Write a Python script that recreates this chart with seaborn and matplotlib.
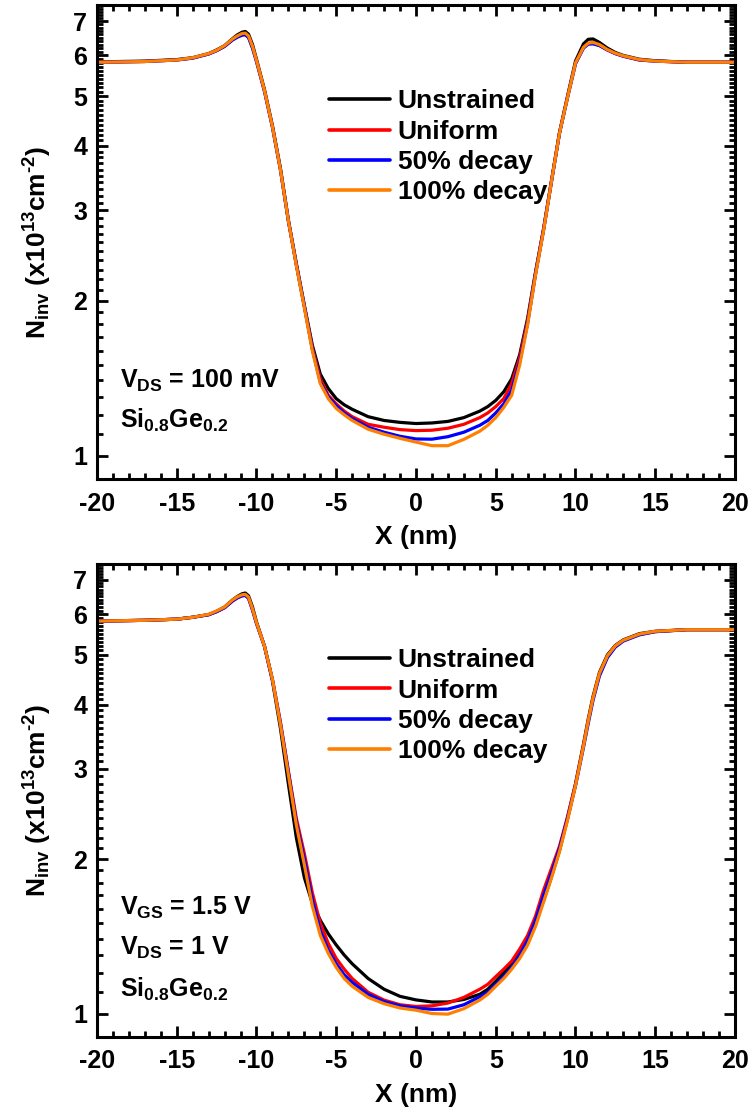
import numpy as np
import pandas as pd
import matplotlib
matplotlib.use("Agg")
import matplotlib.pyplot as plt
import seaborn as sns
from matplotlib.ticker import FixedLocator, MultipleLocator, NullFormatter, FixedFormatter

# ---------------- data ----------------
X_NM = [-20, -17, -15, -14, -13, -12.5, -12, -11.5, -11.2, -10.9, -10.7, -10.5, -10.25, -10, -9.5,
        -9, -8.5, -8, -7.5, -7, -6.5, -6, -5.5, -5, -4.5, -4, -3, -2, -1, 0, 1, 2, 3, 4, 4.5,
        5, 5.5, 6, 6.5, 7, 7.5, 8, 8.5, 9, 9.5, 10, 10.5, 10.8, 11.1, 11.5, 12, 12.5, 13, 14, 15,
        17, 20]

SERIES = ["Unstrained", "Uniform", "50% decay", "100% decay"]
COLORS = ["#000000", "#FF0000", "#0000FF", "#FF8000"]

# Panel 1: V_DS = 100 mV
TOP_UNSTRAINED = [5.83, 5.85, 5.89, 5.94, 6.05, 6.15, 6.27, 6.47, 6.58, 6.66, 6.68, 6.6, 6.3, 5.9, 5.15,
                  4.38, 3.62, 2.87, 2.36, 1.96, 1.64, 1.44, 1.35, 1.29, 1.255, 1.23, 1.19, 1.17, 1.16, 1.154,
                  1.157, 1.165, 1.185, 1.22, 1.245, 1.28, 1.33, 1.41, 1.57, 1.85, 2.28, 2.76, 3.43, 4.25, 5.0,
                  5.85, 6.32, 6.45, 6.46, 6.36, 6.2, 6.08, 6.0, 5.9, 5.86, 5.82, 5.82]
TOP_UNIFORM = [5.82, 5.84, 5.88, 5.93, 6.04, 6.13, 6.25, 6.44, 6.53, 6.59, 6.6, 6.52, 6.22, 5.85, 5.12,
               4.36, 3.6, 2.86, 2.35, 1.95, 1.62, 1.41, 1.31, 1.26, 1.22, 1.19, 1.15, 1.135, 1.123, 1.118,
               1.12, 1.13, 1.15, 1.185, 1.21, 1.245, 1.29, 1.38, 1.55, 1.83, 2.27, 2.76, 3.43, 4.25, 4.98,
               5.8, 6.22, 6.33, 6.34, 6.28, 6.15, 6.05, 5.98, 5.88, 5.85, 5.82, 5.82]
TOP_DECAY50 = [5.82, 5.84, 5.88, 5.93, 6.04, 6.13, 6.25, 6.43, 6.51, 6.57, 6.58, 6.5, 6.2, 5.84, 5.11,
               4.35, 3.6, 2.86, 2.35, 1.95, 1.61, 1.39, 1.3, 1.25, 1.21, 1.18, 1.135, 1.11, 1.09, 1.077,
               1.076, 1.088, 1.11, 1.145, 1.17, 1.21, 1.26, 1.34, 1.52, 1.81, 2.26, 2.75, 3.42, 4.24, 4.97,
               5.78, 6.2, 6.31, 6.32, 6.27, 6.15, 6.05, 5.98, 5.88, 5.85, 5.82, 5.82]
TOP_DECAY100 = [5.82, 5.84, 5.88, 5.94, 6.05, 6.14, 6.27, 6.46, 6.55, 6.62, 6.63, 6.55, 6.25, 5.87, 5.13,
                4.36, 3.6, 2.86, 2.34, 1.94, 1.6, 1.38, 1.29, 1.235, 1.2, 1.17, 1.125, 1.1, 1.08, 1.062,
                1.045, 1.045, 1.075, 1.115, 1.145, 1.185, 1.24, 1.31, 1.5, 1.8, 2.25, 2.74, 3.42, 4.24, 4.97,
                5.8, 6.22, 6.34, 6.36, 6.3, 6.16, 6.06, 5.99, 5.89, 5.85, 5.82, 5.82]

# Panel 2: V_GS = 1.5 V, V_DS = 1 V
BOT_UNSTRAINED = [5.82, 5.84, 5.87, 5.92, 5.99, 6.08, 6.2, 6.4, 6.5, 6.58, 6.6, 6.52, 6.2, 5.8, 5.2,
                  4.45, 3.6, 2.8, 2.2, 1.84, 1.64, 1.52, 1.43, 1.36, 1.3, 1.25, 1.17, 1.115, 1.08, 1.063,
                  1.053, 1.053, 1.065, 1.09, 1.115, 1.155, 1.2, 1.255, 1.33, 1.41, 1.52, 1.66, 1.85, 2.08, 2.4,
                  2.8, 3.35, 3.75, 4.15, 4.62, 5.0, 5.22, 5.35, 5.5, 5.56, 5.6, 5.6]
BOT_UNIFORM = [5.82, 5.84, 5.87, 5.92, 5.99, 6.07, 6.18, 6.37, 6.46, 6.52, 6.53, 6.45, 6.12, 5.76, 5.2,
               4.48, 3.7, 2.97, 2.4, 2.05, 1.72, 1.5, 1.37, 1.28, 1.22, 1.17, 1.1, 1.062, 1.04, 1.032,
               1.035, 1.048, 1.075, 1.115, 1.14, 1.18, 1.22, 1.265, 1.335, 1.42, 1.55, 1.74, 1.92, 2.12, 2.42,
               2.8, 3.33, 3.72, 4.12, 4.58, 4.96, 5.2, 5.34, 5.48, 5.55, 5.6, 5.6]
BOT_DECAY50 = [5.82, 5.84, 5.87, 5.92, 5.99, 6.07, 6.18, 6.37, 6.46, 6.52, 6.53, 6.45, 6.12, 5.76, 5.2,
               4.47, 3.68, 2.95, 2.36, 2.0, 1.67, 1.45, 1.33, 1.25, 1.19, 1.15, 1.09, 1.055, 1.035, 1.025,
               1.019, 1.02, 1.04, 1.078, 1.1, 1.14, 1.18, 1.23, 1.3, 1.39, 1.52, 1.7, 1.88, 2.1, 2.4,
               2.78, 3.3, 3.68, 4.08, 4.55, 4.94, 5.18, 5.32, 5.47, 5.55, 5.6, 5.6]
BOT_DECAY100 = [5.82, 5.84, 5.87, 5.92, 6.0, 6.09, 6.2, 6.4, 6.49, 6.55, 6.56, 6.48, 6.15, 5.78, 5.2,
                4.48, 3.66, 2.92, 2.33, 1.95, 1.62, 1.42, 1.31, 1.23, 1.17, 1.13, 1.075, 1.045, 1.025, 1.015,
                1.0, 0.997, 1.022, 1.062, 1.09, 1.13, 1.17, 1.22, 1.28, 1.36, 1.48, 1.65, 1.84, 2.07, 2.38,
                2.78, 3.32, 3.72, 4.12, 4.6, 4.98, 5.21, 5.34, 5.49, 5.56, 5.6, 5.6]

Y_TICKS = [1, 2, 3, 4, 5, 6, 7]
Y_TICK_LABELS = ["1", "2", "3", "4", "5", "6", "7"]
X_LABEL = "X (nm)"
Y_LABEL = r"N$_{\rm inv}$ (x10$^{13}$cm$^{\text{-}2}$)"
TOP_NOTES = [r"V$_{\rm DS}$ = 100 mV", r"Si$_{\rm 0.8}$Ge$_{\rm 0.2}$"]
BOT_NOTES = [r"V$_{\rm GS}$ = 1.5 V", r"V$_{\rm DS}$ = 1 V", r"Si$_{\rm 0.8}$Ge$_{\rm 0.2}$"]

# ---------------- style ----------------
sns.set_theme(style="ticks")
plt.rcParams["font.family"] = ["Liberation Sans", "DejaVu Sans"]
plt.rcParams["font.weight"] = "bold"
plt.rcParams["axes.unicode_minus"] = False
plt.rcParams["text.color"] = "black"
plt.rcParams["axes.labelcolor"] = "black"
plt.rcParams["xtick.color"] = "black"
plt.rcParams["ytick.color"] = "black"
plt.rcParams["axes.edgecolor"] = "black"
plt.rcParams["mathtext.fontset"] = "custom"
plt.rcParams["mathtext.rm"] = "Liberation Sans:bold"
plt.rcParams["mathtext.it"] = "Liberation Sans:bold"
plt.rcParams["mathtext.bf"] = "Liberation Sans:bold"
plt.rcParams["mathtext.sf"] = "Liberation Sans:bold"
plt.rcParams["mathtext.default"] = "rm"


def make_df(cols):
    frames = []
    for name, vals in zip(SERIES, cols):
        frames.append(pd.DataFrame({"x": X_NM, "y": vals, "series": name}))
    return pd.concat(frames, ignore_index=True)


fig = plt.figure(figsize=(7.53, 11.19), dpi=100)
ax_top = fig.add_axes([0.1288, 0.5719, 0.8473, 0.4236])
ax_bot = fig.add_axes([0.1288, 0.0733, 0.8473, 0.4227])

panels = [
    (ax_top, [TOP_UNSTRAINED, TOP_UNIFORM, TOP_DECAY50, TOP_DECAY100], TOP_NOTES, [0.192, 0.108]),
    (ax_bot, [BOT_UNSTRAINED, BOT_UNIFORM, BOT_DECAY50, BOT_DECAY100], BOT_NOTES, [0.258, 0.173, 0.0846]),
]

for ax, cols, notes, ny in panels:
    df = make_df(cols)
    sns.lineplot(data=df, x="x", y="y", hue="series", hue_order=SERIES,
                 palette=dict(zip(SERIES, COLORS)), estimator=None, linewidth=2.3,
                 ax=ax, legend=True)
    ax.set_yscale("log")
    ax.set_xlim(-20, 20)
    ax.set_ylim(0.9, 7.52)
    ax.yaxis.set_major_locator(FixedLocator(Y_TICKS))
    ax.yaxis.set_major_formatter(FixedFormatter(Y_TICK_LABELS))
    ax.yaxis.set_minor_locator(FixedLocator(np.round(np.arange(0.9, 7.55, 0.1), 2)))
    ax.yaxis.set_minor_formatter(NullFormatter())
    ax.xaxis.set_major_locator(MultipleLocator(5))
    ax.xaxis.set_minor_locator(MultipleLocator(1))
    ax.tick_params(which="both", direction="in", left=True, bottom=True, top=True, right=True,
                   width=2.0, color="black")
    ax.tick_params(which="major", length=8)
    ax.tick_params(which="minor", length=4)
    ax.tick_params(axis="x", which="major", pad=9, labelsize=18, labelcolor="black")
    ax.tick_params(axis="y", which="major", pad=7, labelsize=18, labelcolor="black")
    for sp in ax.spines.values():
        sp.set_linewidth(2.2)
    ax.set_xlabel(X_LABEL, fontsize=19, fontweight="bold", color="black")
    ax.set_ylabel(Y_LABEL, fontsize=19, fontweight="bold", color="black")
    ax.xaxis.set_label_coords(0.5, -0.098)
    ax.yaxis.set_label_coords(-0.068, 0.5)

    handles, labels = ax.get_legend_handles_labels()
    for h in handles:
        h.set_linewidth(2.6)
    ax.legend(handles, labels, loc="upper left", bbox_to_anchor=(0.3636, 0.822),
              frameon=False, borderpad=0, borderaxespad=0, handlelength=2.3,
              handletextpad=0.3, labelspacing=0.24,
              prop={"family": ["Liberation Sans"], "weight": "bold", "size": 19})

    for txt, yy in zip(notes, ny):
        ax.text(0.036, yy, txt, transform=ax.transAxes, fontsize=18, fontweight="bold",
                color="black", ha="left", va="baseline")

fig.savefig("out.png", dpi=100)
